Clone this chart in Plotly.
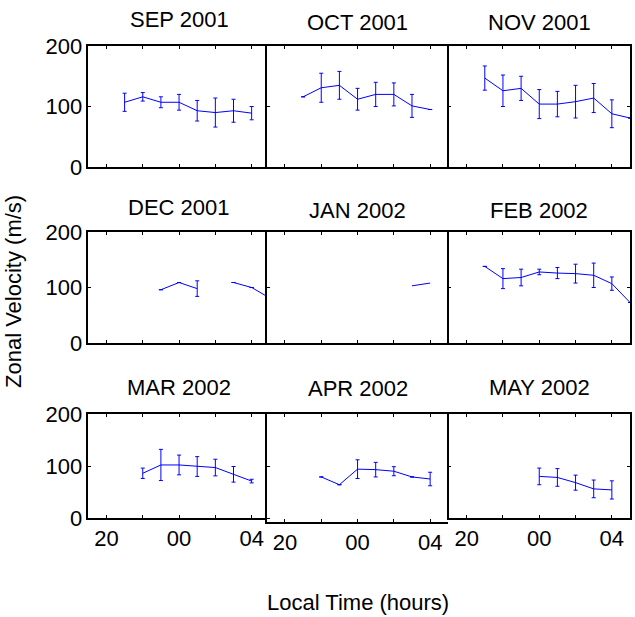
import plotly.graph_objects as go

# ---------------- data ----------------
months = ["SEP 2001", "OCT 2001", "NOV 2001",
          "DEC 2001", "JAN 2002", "FEB 2002",
          "MAR 2002", "APR 2002", "MAY 2002"]

# local time in hours (24 = 00 LT, 28 = 04 LT)
sep_t = [21, 22, 23, 24, 25, 26, 27, 28]
sep_v = [107, 116, 107, 107, 93, 90, 93, 89]
sep_e = [15, 7, 9, 13, 17, 24, 19, 11]

oct_t = [21, 22, 23, 24, 25, 26, 27, 28]
oct_v = [116, 131, 135, 112, 120, 120, 101, 95]
oct_e = [None, 24, 23, 18, 20, 19, 19, None]

nov_t = [21, 22, 23, 24, 25, 26, 27, 28, 29]
nov_v = [147, 126, 130, 104, 104, 108, 114, 88, 81]
nov_e = [20, 26, 20, 24, 21, 27, 24, 23, None]

dec_t = [23, 24, 25, 26, 27, 28, 29]
dec_v = [96, 109, 98, None, 109, 100, 81]
dec_e = [None, None, 14, None, None, None, None]

jan_t = [27, 28]
jan_v = [103, 108]
jan_e = [None, None]

feb_t = [21, 22, 23, 24, 25, 26, 27, 28, 29]
feb_v = [138, 116, 118, 128, 126, 125, 122, 107, 73]
feb_e = [None, 18, 15, 5, 10, 17, 22, 12, None]

mar_t = [22, 23, 24, 25, 26, 27, 28]
mar_v = [86, 102, 102, 99, 97, 84, 71]
mar_e = [10, 30, 19, 19, 16, 15, 3.5]

apr_t = [22, 23, 24, 25, 26, 27, 28]
apr_v = [79, 64, 94, 93, 90, 79, 75]
apr_e = [None, None, 18, 14, 8.7, None, 13]

may_t = [24, 25, 26, 27, 28]
may_v = [80, 78, 68, 56, 54]
may_e = [16, 17, 14.5, 17, 17.5]

series = [(sep_t, sep_v, sep_e), (oct_t, oct_v, oct_e), (nov_t, nov_v, nov_e),
          (dec_t, dec_v, dec_e), (jan_t, jan_v, jan_e), (feb_t, feb_v, feb_e),
          (mar_t, mar_v, mar_e), (apr_t, apr_v, apr_e), (may_t, may_v, may_e)]

x_tickvals = [20, 22, 24, 26, 28]
x_ticktext = ["20", "", "00", "", "04"]
y_tickvals = [0, 100, 200]
y_ticktext = ["0", "100", "200"]

# ---------------- layout geometry (pixels) ----------------
W, H = 635, 617
col_px = [(88.3, 269.8), (266.8, 448.3), (448.5, 630.0)]
row_px = [(46.0, 167.0), (232.0, 343.0), (414.0, 518.0)]
title_y = [[19.5, 22.5, 22.5], [207.0, 210.0, 210.0], [387.0, 388.5, 387.0]]

FONT = "Liberation Sans, Arial, sans-serif"
FS = 22

def px_x(x):
    return x / W

def px_y(y):
    return 1 - y / H

fig = go.Figure()
layout = dict(
    template="none",
    width=W, height=H,
    margin=dict(l=0, r=0, t=0, b=0, pad=0),
    paper_bgcolor="white", plot_bgcolor="white",
    showlegend=False,
    font=dict(family=FONT, size=FS, color="black"),
    annotations=[],
)

for i, (t, v, e) in enumerate(series):
    r, c = divmod(i, 3)
    n = i + 1
    xa = "x" if n == 1 else f"x{n}"
    ya = "y" if n == 1 else f"y{n}"
    has_err = any(val is not None for val in e)
    fig.add_trace(go.Scatter(
        x=t, y=v, mode="lines", xaxis=xa, yaxis=ya,
        line=dict(color="#0000ff", width=1),
        error_y=dict(type="data", array=e, visible=has_err,
                     color="#0000ff", thickness=1, width=2),
        hoverinfo="skip",
    ))

    x0, x1 = col_px[c]
    y0, y1 = row_px[r]
    yr = [0, 200]
    if i == 7:  # APR panel extends slightly lower
        y1 = 521.5
        yr = [-6.7, 200]

    layout["xaxis" if n == 1 else f"xaxis{n}"] = dict(
        domain=[px_x(x0), px_x(x1)], anchor=ya, range=[19, 29],
        automargin=False,
        showline=True, linecolor="black", linewidth=1.5, mirror="ticks",
        ticks="inside", ticklen=3, tickwidth=1, tickcolor="black",
        tickvals=x_tickvals, ticktext=x_ticktext,
        showticklabels=(r == 2), showgrid=False, zeroline=False,
        tickfont=dict(family=FONT, size=FS, color="black"),
    )
    layout["yaxis" if n == 1 else f"yaxis{n}"] = dict(
        domain=[px_y(y1), px_y(y0)], anchor=xa, range=yr,
        automargin=False,
        showline=True, linecolor="black", linewidth=1.5,
        mirror=("ticks" if c == 2 else False),
        ticks="inside", ticklen=3, tickwidth=1, tickcolor="black",
        tickvals=y_tickvals, ticktext=y_ticktext,
        showticklabels=(c == 0), showgrid=False, zeroline=False,
        tickfont=dict(family=FONT, size=FS, color="black"),
    )
    layout["annotations"].append(dict(
        text=months[i], xref="paper", yref="paper",
        x=px_x((x0 + x1) / 2), y=px_y(title_y[r][c]),
        xanchor="center", yanchor="middle", showarrow=False,
        font=dict(family=FONT, size=FS, color="black"),
    ))

layout["annotations"].append(dict(
    text="Zonal Velocity (m/s)", xref="paper", yref="paper",
    x=px_x(13), y=px_y(292), textangle=-90,
    xanchor="center", yanchor="middle", showarrow=False,
    font=dict(family=FONT, size=FS, color="black"),
))
layout["annotations"].append(dict(
    text="Local Time (hours)", xref="paper", yref="paper",
    x=px_x(358), y=px_y(602), xanchor="center", yanchor="middle",
    showarrow=False, font=dict(family=FONT, size=FS, color="black"),
))

fig.update_layout(**layout)
# remove the default 8px page margin so the figure fills the window exactly
fig.write_html(
    "out.html",
    config={"displayModeBar": False},
    post_script="document.body.style.margin='0';document.body.style.overflow='hidden';",
)
